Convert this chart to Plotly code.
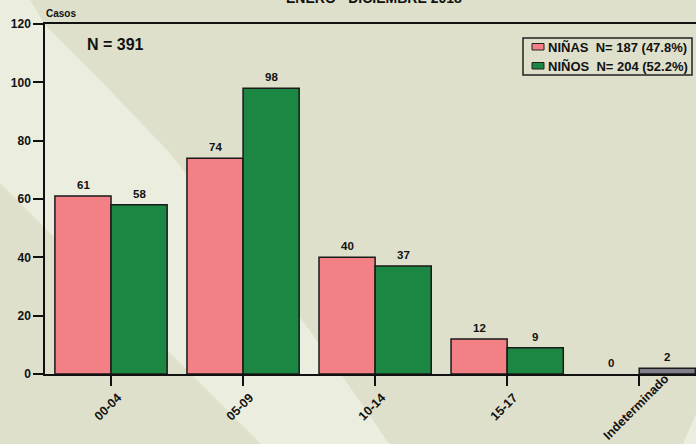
import plotly.graph_objects as go

categories = ["00-04", "05-09", "10-14", "15-17", "Indeterminado"]
ninas = [61, 74, 40, 12, 0]
ninos = [58, 98, 37, 9, 2]
ninos_colors = ["#1b8742", "#1b8742", "#1b8742", "#1b8742", "#7f7f87"]
y_ticks = [0, 20, 40, 60, 80, 100, 120]
legend_labels = ["NIÑAS\u00a0 N= 187 (47.8%)", "NIÑOS\u00a0 N= 204 (52.2%)"]
title_text = "ENERO - DICIEMBRE 2018"
n_text = "N = 391"
y_title = "Casos"

FONT = "Liberation Sans, Arial, sans-serif"
W, H = 696, 444
L, T, B = 45, 24, 70
PW, PH = W - L, H - T - B


def px(x):
    return (x - L) / PW


def py(y):
    return (H - B - y) / PH


fig = go.Figure()
fig.add_trace(go.Bar(
    x=categories, y=ninas, name=legend_labels[0],
    marker=dict(color="#f28084",
                line=dict(color="#1a1a1a", width=[1.5 if v > 0 else 0 for v in ninas])),
    showlegend=False,
))
fig.add_trace(go.Bar(
    x=categories, y=ninos, name=legend_labels[1],
    marker=dict(color=ninos_colors, line=dict(color="#1a1a1a", width=1.5)),
    showlegend=False,
))

annotations = []
# value labels
for cat, v in zip(categories, ninas):
    annotations.append(dict(x=cat, y=v, xref="x", yref="y", text=str(v), showarrow=False,
                            xshift=-28, yshift=11, yanchor="middle",
                            font=dict(family=FONT, size=11.5, color="#111", weight="bold")))
for cat, v in zip(categories, ninos):
    annotations.append(dict(x=cat, y=v, xref="x", yref="y", text=str(v), showarrow=False,
                            xshift=28, yshift=11, yanchor="middle",
                            font=dict(family=FONT, size=11.5, color="#111", weight="bold")))
# category labels (rotated, centred)
for cat in categories:
    annotations.append(dict(x=cat, y=0, xref="x", yref="y", text=cat, showarrow=False,
                            textangle=-45, xanchor="center", yanchor="middle",
                            xshift=-3, yshift=-33,
                            font=dict(family=FONT, size=12.5, color="#111", weight="bold")))
# title, axis title, N
annotations.append(dict(x=px(374), y=py(8), xref="paper", yref="paper", text=title_text,
                        showarrow=False, xanchor="center", yanchor="bottom",
                        font=dict(family=FONT, size=14, color="#111", weight="bold")))
annotations.append(dict(x=px(44), y=py(13), xref="paper", yref="paper", text=y_title,
                        showarrow=False, xanchor="left", yanchor="middle",
                        font=dict(family=FONT, size=10, color="#111", weight="bold")))
annotations.append(dict(x=px(85), y=py(44), xref="paper", yref="paper", text=n_text,
                        showarrow=False, xanchor="left", yanchor="middle",
                        font=dict(family=FONT, size=16, color="#111", weight="bold")))
# legend texts
for i, lab in enumerate(legend_labels):
    annotations.append(dict(x=px(546), y=py(47.5 + 19 * i), xref="paper", yref="paper", text=lab,
                            showarrow=False, xanchor="left", yanchor="middle",
                            font=dict(family=FONT, size=13, color="#111", weight="bold")))

LIGHT = "#ebeddf"
band = [(0, -5), (27, -5), (45, 25), (100, 80), (167, 150), (297, 313), (343, 377),
        (392, 448), (265, 448), (0, 183)]
corner = [(700, 405), (681, 448), (700, 448)]


def path(pts):
    return "M " + " L ".join(f"{px(a):.4f},{py(b):.4f}" for a, b in pts) + " Z"


shapes = [
    dict(type="path", xref="paper", yref="paper", path=path(band), fillcolor=LIGHT,
         line=dict(width=0), layer="below"),
    dict(type="path", xref="paper", yref="paper", path=path(corner), fillcolor=LIGHT,
         line=dict(width=0), layer="below"),
    # legend box
    dict(type="rect", xref="paper", yref="paper", x0=px(523), x1=px(692), y0=py(38), y1=py(75),
         line=dict(color="#222", width=1.5), fillcolor="rgba(0,0,0,0)"),
    dict(type="rect", xref="paper", yref="paper", x0=px(532), x1=px(544), y0=py(43.5), y1=py(50),
         line=dict(color="#222", width=1), fillcolor="#f28084"),
    dict(type="rect", xref="paper", yref="paper", x0=px(532), x1=px(544), y0=py(62.5), y1=py(69),
         line=dict(color="#222", width=1), fillcolor="#1b8742"),
]

fig.update_layout(
    width=W, height=H,
    margin=dict(l=L, r=0, t=T, b=B, pad=0),
    paper_bgcolor="#dfe0cb",
    plot_bgcolor="rgba(0,0,0,0)",
    barmode="group", bargap=0.15, bargroupgap=0,
    annotations=annotations, shapes=shapes,
    font=dict(family=FONT, color="#111"),
    xaxis=dict(type="category", range=[-0.5, 4.43], showline=True, linecolor="#111",
               linewidth=1.5, mirror=True,
               ticks="outside", ticklen=10, tickwidth=1.5, tickcolor="#111",
               showticklabels=False, showgrid=False, zeroline=False, fixedrange=True),
    yaxis=dict(range=[0, 120], tickvals=y_ticks, showline=True, linecolor="#111", linewidth=1.5,
               ticks="outside", ticklen=10, tickwidth=1.5, tickcolor="#111",
               tickfont=dict(family=FONT, size=12, color="#111", weight="bold"),
               showgrid=False, zeroline=False, fixedrange=True),
)

fig.write_html("out.html", config={"displayModeBar": False},
               post_script="document.body.style.margin='0';document.body.style.overflow='hidden';")
